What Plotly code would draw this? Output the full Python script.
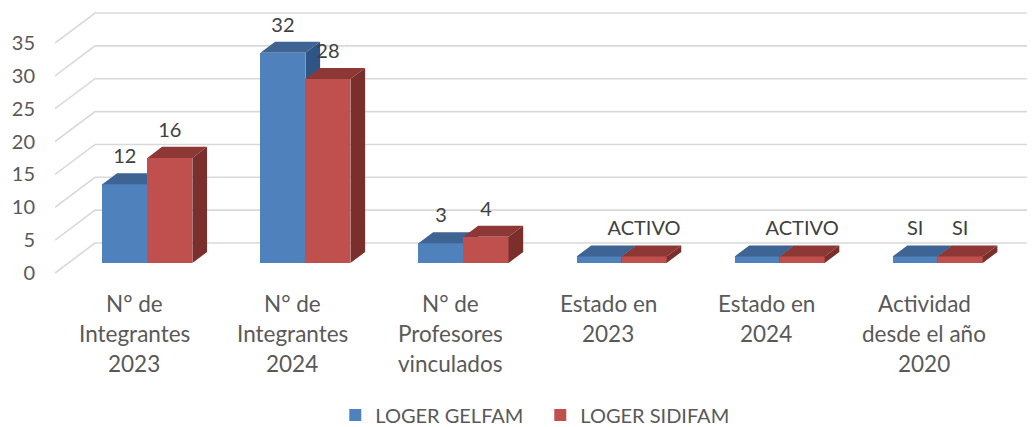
import plotly.graph_objs as go

# data
categories = [["N° de", "Integrantes", "2023"],
              ["N° de", "Integrantes", "2024"],
              ["N° de", "Profesores", "vinculados"],
              ["Estado en", "2023"],
              ["Estado en", "2024"],
              ["Actividad", "desde el año", "2020"]]
series_names = ["LOGER GELFAM", "LOGER SIDIFAM"]
gelfam = [12, 32, 3, 1, 1, 1]
sidifam = [16, 28, 4, 1, 1, 1]
gelfam_labels = ["12", "32", "3", "", "", "SI"]
sidifam_labels = ["16", "28", "4", "ACTIVO", "ACTIVO", "SI"]
y_ticks = [0, 5, 10, 15, 20, 25, 30, 35]

# look of the fake 3d
FONT = "Lato"
X_RANGE = [-0.5, 5.7]
Y_RANGE = [-1.065, 40.33]
DX = 40 / 158.0          # full depth shift, x units
DY = 30 / 6.571          # full depth shift, y units
D_FRONT, D_BACK = 0.333, 0.70
BW = 45 / 158.0
BASE = D_FRONT * DY
DDX = (D_BACK - D_FRONT) * DX
DDY = (D_BACK - D_FRONT) * DY
LABEL_UP = 26 / 6.571

colors = [dict(front="#4F81BD", top="#3E6494", side="#2F5584"),
          dict(front="#C0504D", top="#8E3836", side="#7A2F2D")]

fig = go.Figure()

# back wall grid + left diagonals (bottom layer)
gx, gy = [], []
for v in y_ticks:
    gx += [X_RANGE[0], X_RANGE[0] + DX, X_RANGE[1], None]
    gy += [v, v + DY, v + DY, None]
fig.add_trace(go.Scatter(x=gx, y=gy, mode="lines", line=dict(color="#D9D9D9", width=1.6),
                         hoverinfo="skip", showlegend=False, xaxis="x", yaxis="y"))

# each series on its own overlaid axes so red sits above blue
for k, (vals, name) in enumerate([(gelfam, series_names[0]), (sidifam, series_names[1])]):
    c = colors[k]
    xa, ya = ("x2", "y2") if k == 0 else ("x3", "y3")
    lefts = [i + D_FRONT * DX - BW + k * BW for i in range(len(vals))]
    fig.add_trace(go.Bar(x=[l + BW / 2 for l in lefts], y=vals, base=BASE, width=BW,
                         marker=dict(color=c["front"], line=dict(width=0)), name=name,
                         xaxis=xa, yaxis=ya))
    tx, ty, sx, sy = [], [], [], []
    for l, v in zip(lefts, vals):
        r = l + BW
        top = BASE + v
        tx += [l, r, r + DDX, l + DDX, l, None]
        ty += [top, top, top + DDY, top + DDY, top, None]
        sx += [r, r, r + DDX, r + DDX, r, None]
        sy += [BASE, top, top + DDY, BASE + DDY, BASE, None]
    fig.add_trace(go.Scatter(x=tx, y=ty, fill="toself", fillcolor=c["top"], mode="lines",
                             line=dict(width=0, color=c["top"]), hoverinfo="skip",
                             showlegend=False, xaxis=xa, yaxis=ya))
    fig.add_trace(go.Scatter(x=sx, y=sy, fill="toself", fillcolor=c["side"], mode="lines",
                             line=dict(width=0, color=c["side"]), hoverinfo="skip",
                             showlegend=False, xaxis=xa, yaxis=ya))

# data labels on top
lx, ly, lt = [], [], []
for k, (vals, labs) in enumerate([(gelfam, gelfam_labels), (sidifam, sidifam_labels)]):
    for i, (v, t) in enumerate(zip(vals, labs)):
        lx.append(i + D_FRONT * DX - BW / 2 + k * BW)
        ly.append(BASE + v + LABEL_UP)
        lt.append(t)
fig.add_trace(go.Scatter(x=lx, y=ly, text=lt, mode="text", textposition="middle center",
                         textfont=dict(family=FONT, size=20, color="#404040"),
                         hoverinfo="skip", showlegend=False, xaxis="x3", yaxis="y3"))

# category labels
for i, lines in enumerate(categories):
    for j, line in enumerate(lines):
        fig.add_annotation(x=i, xref="x", y=0, yref="paper", yshift=-23 - 30 * j,
                           text=line, showarrow=False, yanchor="middle", xanchor="center",
                           font=dict(family=FONT, size=22.5, color="#595959"))

hidden = dict(range=X_RANGE, visible=False, fixedrange=True)
fig.update_layout(
    width=1027, height=419,
    margin=dict(l=47, r=0, t=0, b=147, autoexpand=False),
    paper_bgcolor="white", plot_bgcolor="white",
    barmode="overlay", bargap=0,
    font=dict(family=FONT, color="#595959"),
    xaxis=dict(range=X_RANGE, visible=False, fixedrange=True),
    yaxis=dict(range=Y_RANGE, tickvals=y_ticks, showgrid=False, zeroline=False, showline=False,
               ticks="", ticklabelstandoff=19, tickfont=dict(family=FONT, size=20, color="#595959"),
               fixedrange=True),
    xaxis2=dict(hidden, overlaying="x"),
    yaxis2=dict(range=Y_RANGE, overlaying="y", visible=False, fixedrange=True),
    xaxis3=dict(hidden, overlaying="x"),
    yaxis3=dict(range=Y_RANGE, overlaying="y", visible=False, fixedrange=True),
    legend=dict(orientation="h", x=0.286, xanchor="left", y=-0.496, yanchor="middle",
                entrywidth=160, entrywidthmode="pixels",
                font=dict(family=FONT, size=20, color="#595959"), traceorder="normal"),
    showlegend=True,
)

fig.write_html("out.html")
